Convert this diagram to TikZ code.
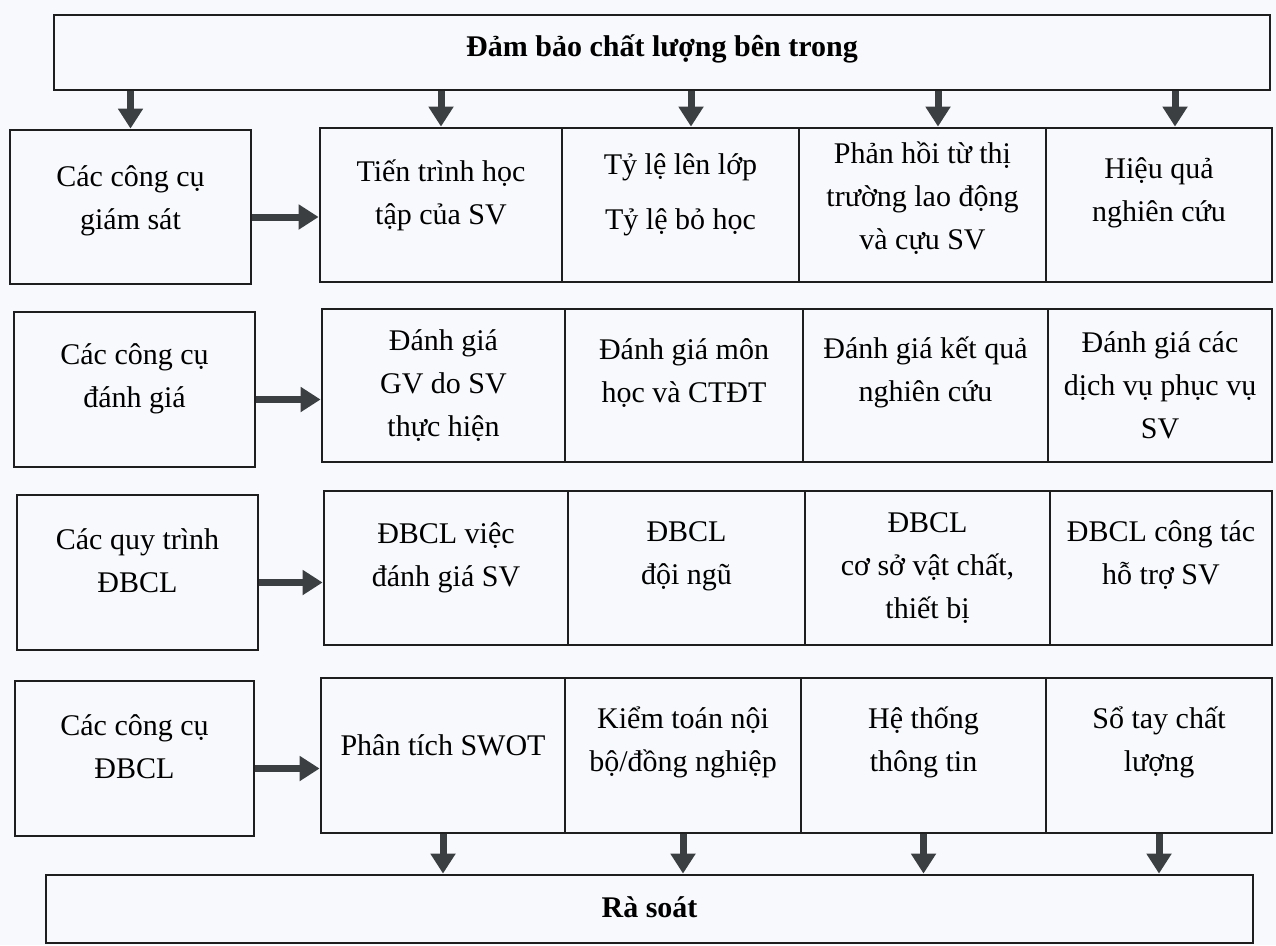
\documentclass[tikz,border=0pt]{standalone}
\usepackage{fontspec}
\setmainfont{Liberation Serif}
\usetikzlibrary{arrows.meta,calc}
\definecolor{bg}{RGB}{247,249,252}
\definecolor{ln}{RGB}{30,30,30}
\definecolor{ar}{RGB}{60,63,66}
\newcommand\mkbox[5]{\node[box,minimum width={(#4)-(#2)},minimum height={(#5)-(#3)}] (#1) at ({((#2)+(#4))/2},{((#3)+(#5))/2}) {};}
\begin{document}
\begin{tikzpicture}[x=1pt,y=-1pt,
  box/.style={draw=ln,line width=2.8pt,inner sep=0pt},
  lbl/.style={align=center,font=\fontsize{30}{43}\selectfont,inner sep=0pt,text=black},
  ttl/.style={font=\bfseries\fontsize{30}{43}\selectfont,inner sep=0pt,text=black},
  arr/.style={draw=ar,line width=7pt,-{Triangle[length=20pt,width=24pt]}}]
\fill[bg] (0,0) rectangle (1276,945);
\useasboundingbox (0,0) rectangle (1276,945);
% boxes
\mkbox{T}{54}{15}{1270}{90}
\mkbox{L1}{10}{130}{251}{284}
\mkbox{r1a}{320}{128}{562}{282}
\mkbox{r1b}{562}{128}{799}{282}
\mkbox{r1c}{799}{128}{1046}{282}
\mkbox{r1d}{1046}{128}{1272}{282}
\mkbox{L2}{14}{312}{255}{467}
\mkbox{r2a}{322}{309}{565}{462}
\mkbox{r2b}{565}{309}{803}{462}
\mkbox{r2c}{803}{309}{1048}{462}
\mkbox{r2d}{1048}{309}{1272}{462}
\mkbox{L3}{17}{495}{258}{650}
\mkbox{r3a}{324}{491}{568}{645}
\mkbox{r3b}{568}{491}{805}{645}
\mkbox{r3c}{805}{491}{1050}{645}
\mkbox{r3d}{1050}{491}{1272}{645}
\mkbox{L4}{15}{681}{254}{836}
\mkbox{r4a}{321}{678}{565}{833}
\mkbox{r4b}{565}{678}{801}{833}
\mkbox{r4c}{801}{678}{1046}{833}
\mkbox{r4d}{1046}{678}{1272}{833}
\mkbox{B}{46}{875}{1253}{943}
% texts
\node[ttl] at ($(T.center)+(0,-4)$) {Đảm bảo chất lượng bên trong};
\node[ttl] at ($(B.center)+(0,-2)$) {Rà soát};
\node[lbl] at ($(L1.center)+(0,-6)$) {Các công cụ\\giám sát};
\node[lbl] at ($(r1a.center)+(0,-10)$) {Tiến trình học\\tập của SV};
\node[lbl] at ($(r1b.center)+(0,-10)$) {Tỷ lệ lên lớp\\[12pt]Tỷ lệ bỏ học};
\node[lbl] at ($(r1c.center)+(0,-7)$) {Phản hồi từ thị\\trường lao động\\và cựu SV};
\node[lbl] at ($(r1d.center)+(0,-12)$) {Hiệu quả\\nghiên cứu};
\node[lbl] at ($(L2.center)+(0,-11)$) {Các công cụ\\đánh giá};
\node[lbl] at ($(r2a.center)+(0,0)$) {Đánh giá\\GV do SV\\thực hiện};
\node[lbl] at ($(r2b.center)+(0,-12)$) {Đánh giá môn\\học và CTĐT};
\node[lbl] at ($(r2c.center)+(0,-13)$) {Đánh giá kết quả\\nghiên cứu};
\node[lbl] at ($(r2d.center)+(0,0)$) {Đánh giá các\\dịch vụ phục vụ\\SV};
\node[lbl] at ($(L3.center)+(0,-12)$) {Các quy trình\\ĐBCL};
\node[lbl] at ($(r3a.center)+(0,-10)$) {ĐBCL việc\\đánh giá SV};
\node[lbl] at ($(r3b.center)+(0,-12)$) {ĐBCL\\đội ngũ};
\node[lbl] at ($(r3c.center)+(0,0)$) {ĐBCL\\cơ sở vật chất,\\thiết bị};
\node[lbl] at ($(r3d.center)+(0,-13)$) {ĐBCL công tác\\hỗ trợ SV};
\node[lbl] at ($(L4.center)+(0,-12)$) {Các công cụ\\ĐBCL};
\node[lbl] at ($(r4a.center)+(0,-10)$) {Phân tích SWOT};
\node[lbl] at ($(r4b.center)+(0,-13)$) {Kiểm toán nội\\bộ/đồng nghiệp};
\node[lbl] at ($(r4c.center)+(0,-13)$) {Hệ thống\\thông tin};
\node[lbl] at ($(r4d.center)+(0,-13)$) {Sổ tay chất\\lượng};
% arrows from top box
\coordinate (a3) at (691,0);
\coordinate (a4) at (938,0);
\coordinate (a5) at (1175,0);
\draw[arr] (T.south -| L1.north) -- (L1.north);
\draw[arr] (T.south -| r1a.north) -- (r1a.north);
\draw[arr] (T.south -| a3) -- (r1b.north -| a3);
\draw[arr] (T.south -| a4) -- (r1c.north -| a4);
\draw[arr] (T.south -| a5) -- (r1d.north -| a5);
% horizontal arrows
\coordinate (s1) at ([yshift=-10pt]L1.east);
\coordinate (s2) at ([yshift=-10pt]L2.east);
\coordinate (s3) at ([yshift=-10pt]L3.east);
\coordinate (s4) at ([yshift=-10pt]L4.east);
\draw[arr] (s1) -- (s1 -| r1a.west);
\draw[arr] (s2) -- (s2 -| r2a.west);
\draw[arr] (s3) -- (s3 -| r3a.west);
\draw[arr] (s4) -- (s4 -| r4a.west);
% arrows to bottom box
\draw[arr] (r4a.south) -- (r4a.south |- B.north);
\draw[arr] (r4b.south) -- (r4b.south |- B.north);
\draw[arr] (r4c.south) -- (r4c.south |- B.north);
\draw[arr] (r4d.south) -- (r4d.south |- B.north);
\end{tikzpicture}
\end{document}
